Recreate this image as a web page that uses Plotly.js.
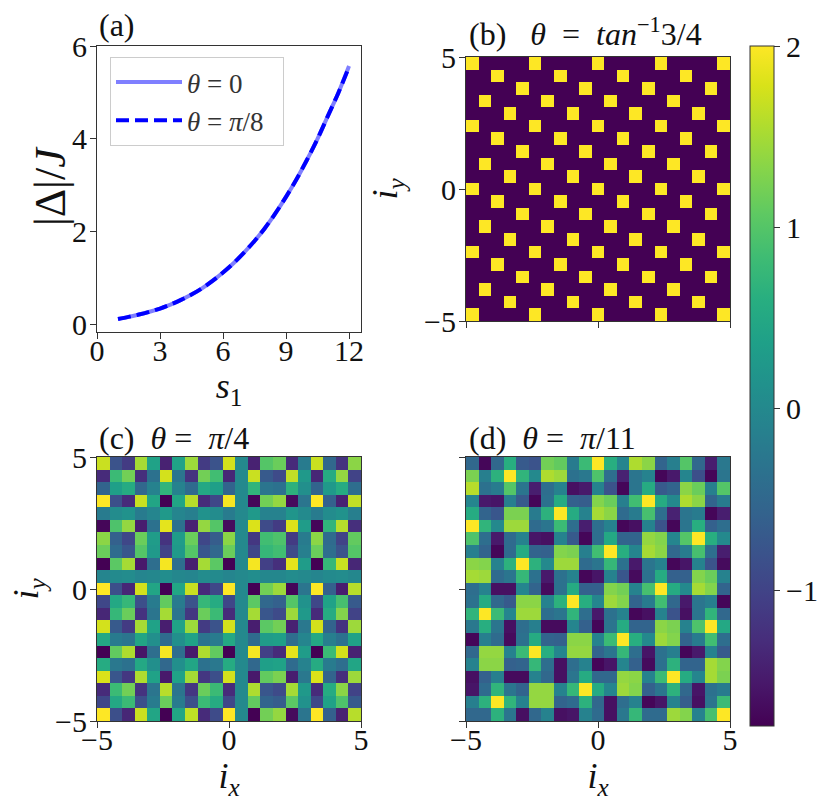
<!DOCTYPE html>
<html>
<head>
<meta charset="utf-8">
<script src="https://cdn.plot.ly/plotly-3.0.1.min.js"></script>
<style>html,body{margin:0;padding:0;background:#fff}</style>
</head>
<body>
<div id="chart" style="width:830px;height:808px"></div>
<script>
const s1 = [1,1.5,2,2.5,3,3.5,4,4.5,5,5.5,6,6.5,7,7.5,8,8.5,9,9.5,10,10.5,11,11.5,12];
const gapTheta0 = [0.12,0.165,0.215,0.275,0.345,0.43,0.53,0.645,0.78,0.94,1.12,1.32,1.55,1.8,2.08,2.4,2.75,3.13,3.55,4.0,4.5,5.0,5.57];
const gapThetaPi8 = [0.12,0.165,0.215,0.275,0.345,0.43,0.53,0.645,0.78,0.94,1.12,1.32,1.55,1.8,2.08,2.4,2.75,3.13,3.55,4.0,4.5,5.0,5.55];

const L=-1.75, H=2;
const panelB = [
[H,L,L,L,L,H,L,L,L,L,H,L,L,L,L,H,L,L,L,L,H],
[L,L,H,L,L,L,L,H,L,L,L,L,H,L,L,L,L,H,L,L,L],
[L,L,L,L,H,L,L,L,L,H,L,L,L,L,H,L,L,L,L,H,L],
[L,H,L,L,L,L,H,L,L,L,L,H,L,L,L,L,H,L,L,L,L],
[L,L,L,H,L,L,L,L,H,L,L,L,L,H,L,L,L,L,H,L,L],
[H,L,L,L,L,H,L,L,L,L,H,L,L,L,L,H,L,L,L,L,H],
[L,L,H,L,L,L,L,H,L,L,L,L,H,L,L,L,L,H,L,L,L],
[L,L,L,L,H,L,L,L,L,H,L,L,L,L,H,L,L,L,L,H,L],
[L,H,L,L,L,L,H,L,L,L,L,H,L,L,L,L,H,L,L,L,L],
[L,L,L,H,L,L,L,L,H,L,L,L,L,H,L,L,L,L,H,L,L],
[H,L,L,L,L,H,L,L,L,L,H,L,L,L,L,H,L,L,L,L,H],
[L,L,H,L,L,L,L,H,L,L,L,L,H,L,L,L,L,H,L,L,L],
[L,L,L,L,H,L,L,L,L,H,L,L,L,L,H,L,L,L,L,H,L],
[L,H,L,L,L,L,H,L,L,L,L,H,L,L,L,L,H,L,L,L,L],
[L,L,L,H,L,L,L,L,H,L,L,L,L,H,L,L,L,L,H,L,L],
[H,L,L,L,L,H,L,L,L,L,H,L,L,L,L,H,L,L,L,L,H],
[L,L,H,L,L,L,L,H,L,L,L,L,H,L,L,L,L,H,L,L,L],
[L,L,L,L,H,L,L,L,L,H,L,L,L,L,H,L,L,L,L,H,L],
[L,H,L,L,L,L,H,L,L,L,L,H,L,L,L,L,H,L,L,L,L],
[L,L,L,H,L,L,L,L,H,L,L,L,L,H,L,L,L,L,H,L,L],
[H,L,L,L,L,H,L,L,L,L,H,L,L,L,L,H,L,L,L,L,H]
];
const panelC = [
[1.7,-.8,-1.1,1.5,.4,-1.4,.4,1.45,-1.1,-.8,1.75,0,-1.4,1,1.15,-1.3,-.2,1.7,-.5,-1.2,1.35],
[-1.3,.8,1.2,-1.25,-.35,1.75,-.3,-1.2,1.2,.85,-1.35,0,1.7,-.7,-.9,1.65,.25,-1.35,.55,1.4,-1],
[-.55,.35,.55,-.5,-.1,.7,-.1,-.45,.5,.35,-.55,0,.7,-.3,-.35,.65,.1,-.55,.25,.55,-.4],
[2,-.85,-1.3,1.7,.45,-1.75,.45,1.6,-1.3,-.95,1.95,0,-1.7,1.2,1.4,-1.65,-.3,2,-.6,-1.4,1.65],
[-.2,.05,.15,-.2,-.05,.25,-.05,-.15,.15,.05,-.2,0,.25,-.1,-.1,.2,.02,-.2,.05,.15,-.15],
[-1.7,.95,1.4,-1.45,-.35,1.85,-.35,-1.4,1.4,1,-1.65,0,1.8,-.9,-1.1,1.8,.3,-1.7,.7,1.6,-1.25],
[1.35,-.6,-.95,1.15,.3,-1.2,.3,1.15,-.95,-.65,1.35,0,-1.15,.85,.95,-1.1,-.2,1.35,-.45,-1,1.1],
[1.15,-.45,-.75,1,.25,-1,.25,1,-.75,-.5,1.15,0,-.95,.75,.85,-.9,-.15,1.15,-.4,-.8,1],
[-1.75,1.05,1.5,-1.5,-.4,1.95,-.4,-1.45,1.5,1.05,-1.75,0,1.95,-1.05,-1.25,1.85,.3,-1.75,.75,1.7,-1.35],
[-.05,.03,.05,-.05,-.02,.07,-.02,-.05,.05,.03,-.05,0,.07,-.03,-.03,.06,.01,-.05,.02,.05,-.03],
[2,-.85,-1.35,1.75,.45,-1.75,.45,1.7,-1.3,-.95,2,0,-1.75,1.2,1.45,-1.7,-.3,2,-.6,-1.45,1.6],
[-.95,.5,.75,-.85,-.2,1.1,-.2,-.8,.75,.55,-.95,0,1.05,-.5,-.6,1,.15,-.95,.4,.9,-.7],
[-1.35,.75,1.15,-1.2,-.3,1.5,-.3,-1.15,1.15,.8,-1.3,0,1.5,-.75,-.9,1.45,.25,-1.3,.55,1.3,-1],
[1.75,-.7,-1.1,1.5,.4,-1.45,.4,1.45,-1.1,-.8,1.75,0,-1.45,1.05,1.2,-1.4,-.25,1.75,-.55,-1.2,1.45],
[.5,-.2,-.3,.45,.1,-.45,.1,.4,-.3,-.2,.5,0,-.45,.3,.35,-.4,-.05,.5,-.15,-.35,.4],
[-1.75,1.1,1.55,-1.55,-.4,1.95,-.4,-1.5,1.55,1.1,-1.75,0,1.95,-1.05,-1.3,1.85,.3,-1.75,.8,1.75,-1.4],
[.55,-.25,-.35,.5,.1,-.5,.1,.45,-.35,-.25,.55,0,-.5,.35,.4,-.45,-.1,.55,-.2,-.4,.45],
[1.8,-.75,-1.15,1.55,.4,-1.5,.4,1.5,-1.15,-.85,1.75,0,-1.5,1.1,1.25,-1.45,-.25,1.8,-.55,-1.25,1.45],
[-1.3,.8,1.2,-1.2,-.3,1.6,-.3,-1.15,1.15,.8,-1.3,0,1.55,-.75,-.9,1.5,.25,-1.3,.55,1.35,-1],
[-.95,.5,.8,-.85,-.2,1.15,-.2,-.85,.8,.55,-.95,0,1.1,-.55,-.65,1.05,.15,-.95,.4,.95,-.7],
[2,-.85,-1.35,1.7,.45,-1.75,.45,1.65,-1.3,-.9,2,0,-1.75,1.2,1.4,-1.65,-.3,2,-.6,-1.4,1.6]
];
const panelD = [
[-.5,-1.7,-.5,.6,-.7,-.8,1.2,1.1,-.2,.8,2,.6,-.05,1.55,1.35,-.55,-.15,1,-.5,-1.45,-.25],
[1.25,-.15,.65,2,.7,0,1.55,1.45,-.35,-.25,.95,-.4,-1.4,-.3,-.1,-1.7,-1.5,-.05,-.85,-1.7,-.3],
[1.6,-.35,-.2,1,-.3,-1.45,-.4,-.1,-1.6,-1.5,-.1,-.8,-1.7,-.3,.55,-.7,-.55,1.35,1.15,-.15,1],
[-.05,-1.5,-1.55,-.15,-.7,-1.7,-.35,.55,-.6,-.65,1.3,1.15,-.15,.85,2,.55,0,1.55,1.35,-.55,-.2],
[.55,-.55,-.75,1.25,1.25,-.2,.65,2,.55,-.1,1.5,1.35,-.45,-.2,.9,-.4,-1.4,-.3,-.2,-1.7,-1.45],
[2,.7,0,1.45,1.45,-.45,-.3,.8,-.4,-1.45,-.4,-.1,-1.7,-1.6,-.1,-.8,-1.7,-.3,.6,-.6,-.4],
[.95,-.4,-1.5,-.45,-.1,-1.55,-1.6,-.1,-.7,-1.7,-.4,.5,-.55,-.55,1.4,1.3,-.05,1,2,.6,0],
[-.15,-.55,-1.7,-.45,.55,-.55,-.6,1.3,1.25,-.15,.85,2,.6,-.05,1.5,1.35,-.5,-.2,.9,-.4,-1.45],
[1.35,1.3,-.1,.65,2,.65,0,1.45,1.45,-.45,-.3,.75,-.35,-1.5,-.3,-.1,-1.7,-1.55,-.1,-.8,-1.65],
[1.5,1.45,-.45,-.3,.75,-.35,-1.5,-.35,-.1,-1.7,-1.55,-.1,-.75,-1.65,-.35,.55,-.6,-.6,1.3,1.15,-.1],
[-.4,-.1,-1.6,-1.6,-.05,-.55,-1.65,-.35,.55,-.6,-.6,1.3,1.2,-.1,.9,2,.55,0,1.5,1.3,-.55],
[-.35,.55,-.5,-.7,1.35,1.35,-.1,.65,2,.6,-.05,1.45,1.3,-.55,-.2,.85,-.5,-1.5,-.3,-.15,-1.7],
[.7,2,.8,-.05,1.45,1.45,-.4,-.3,.7,-.4,-1.5,-.35,-.1,-1.7,-1.6,-.1,-.8,-1.6,-.3,.7,-.5],
[-.25,.6,-.3,-1.6,-.4,-.15,-1.65,-1.65,-.05,-.6,-1.7,-.3,.55,-.55,-.55,1.35,1.25,-.1,.95,2,.5],
[-1.7,-.15,-.45,-1.65,-.35,.55,-.55,-.6,1.35,1.35,-.1,.8,2,.6,0,1.45,1.3,-.55,-.2,.85,-.4],
[-.5,1.4,1.4,-.1,.8,2,.6,-.05,1.4,1.4,-.55,-.3,.75,-.4,-1.55,-.35,-.15,-1.7,-1.5,-.1,-.7],
[-.1,1.35,1.35,-.6,-.55,.75,-.4,-1.6,-.4,-.1,-1.7,-1.55,-.05,-.6,-1.65,-.35,.65,-.55,-.55,1.5,1.3],
[-1.6,-.6,-.15,-1.65,-1.65,-.1,-.5,-1.6,-.3,.55,-.5,-.5,1.4,1.35,-.1,.8,2,.55,-.05,1.5,1.25],
[-1.55,-.45,.7,-.3,-.55,1.4,1.4,-.1,.75,2,.55,-.05,1.45,1.3,-.6,-.3,.65,-.5,-1.55,-.35,-.2],
[-.15,.65,2,.7,-.1,1.4,1.4,-.55,-.45,.65,-.5,-1.6,-.4,-.1,-1.7,-1.55,-.1,-.65,-1.6,-.3,.8],
[-.5,-.5,.65,-.3,-1.6,-.5,-.1,-1.6,-1.55,-.1,-.45,-1.6,-.25,.75,-.45,-.45,1.45,1.3,-.1,.9,2]
];

const ticksA_x = [0,3,6,9,12];
const ticksA_y = [0,2,4,6];
const ticksMap = [-5,0,5];
const labelsMap = ['\u22125','0','5'];
const ticksBar = [-1,0,1,2];
const labelsBar = ['\u22121','0','1','2'];

const W=830, Ht=808;
const serif = '"Liberation Serif","DejaVu Serif",serif';
const ink = '#333333';
const dx = (px0,px1)=>[px0/W, px1/W];
const dy = (top,bot)=>[1-bot/Ht, 1-top/Ht];

function xAxisBase(extra){ return axisBase(Object.assign({ticklabelstandoff:-14},extra)); }
function yAxisBase(extra){ return axisBase(Object.assign({ticklabelstandoff:-3},extra)); }
function axisBase(extra){
  return Object.assign({
    showgrid:false, zeroline:false, showline:true, mirror:true,
    linecolor:ink, linewidth:1, ticks:'outside', ticklen:6, tickwidth:1, tickcolor:ink,
    tickfont:{family:serif,size:30,color:'#111'}, automargin:false
  },extra);
}
function axisTitle(text,size,standoff){
  return {text:text,font:{family:serif,size:size,color:'#111'},standoff:standoff};
}
function heat(z,xa,ya){
  return {type:'heatmap',z:z,x0:-5+5/21,dx:10/21,y0:5-5/21,dy:-10/21,xaxis:xa,yaxis:ya,
    coloraxis:'coloraxis',zsmooth:false,showlegend:false,hoverinfo:'skip'};
}

const traces = [
  {type:'scatter',mode:'lines',x:s1,y:gapTheta0,name:'<i>θ</i> = 0',xaxis:'x',yaxis:'y',
   line:{color:'rgba(0,0,255,0.5)',width:4,shape:'spline'}},
  {type:'scatter',mode:'lines',x:s1,y:gapThetaPi8,name:'<i>θ</i> = <i>π</i>/8\u2002',xaxis:'x',yaxis:'y',
   line:{color:'#0000ff',width:4,dash:'13px,6px',shape:'spline'}},
  heat(panelB,'x2','y2'),
  heat(panelC,'x3','y3'),
  heat(panelD,'x4','y4')
];

function label(text,px,py){
  return {text:text,xref:'paper',yref:'paper',x:px/W,y:1-py/Ht,xanchor:'left',yanchor:'bottom',
    showarrow:false,align:'left',font:{family:serif,size:32,color:'#111'}};
}

const layout = {
  width:W,height:Ht,margin:{l:0,r:0,t:0,b:0},paper_bgcolor:'#fff',plot_bgcolor:'#fff',
  font:{family:serif,color:'#111'},
  xaxis:xAxisBase({domain:dx(97,361),range:[0,12.57],tickvals:ticksA_x,title:axisTitle('<i>s</i><sub>1</sub>',36,2),anchor:'y'}),
  yaxis:yAxisBase({domain:dy(46,331.5),range:[-0.15,6],tickvals:ticksA_y,anchor:'x'}),
  xaxis2:axisBase({domain:dx(466,730),range:[-5,5],tickvals:ticksMap,showticklabels:false,anchor:'y2'}),
  yaxis2:yAxisBase({domain:dy(57,321),range:[-5,5],tickvals:ticksMap,ticktext:labelsMap,title:axisTitle('<i>i<sub>y</sub></i>',36,15),anchor:'x2'}),
  xaxis3:xAxisBase({domain:dx(97,361),range:[-5,5],tickvals:ticksMap,ticktext:labelsMap,title:axisTitle('<i>i<sub>x</sub></i>',36,2),anchor:'y3'}),
  yaxis3:yAxisBase({domain:dy(457,721),range:[-5,5],tickvals:ticksMap,ticktext:labelsMap,title:axisTitle('<i>i<sub>y</sub></i>',36,5),anchor:'x3'}),
  xaxis4:xAxisBase({domain:dx(466,730),range:[-5,5],tickvals:ticksMap,ticktext:labelsMap,title:axisTitle('<i>i<sub>x</sub></i>',36,2),anchor:'y4'}),
  yaxis4:axisBase({domain:dy(457,721),range:[-5,5],tickvals:ticksMap,showticklabels:false,anchor:'x4'}),
  coloraxis:{colorscale:'Viridis',cmin:-1.75,cmax:2,colorbar:{
    x:750/W,xanchor:'left',xref:'paper',y:1-726/Ht,yanchor:'bottom',yref:'paper',
    len:680/Ht,lenmode:'fraction',thickness:24,thicknessmode:'pixels',xpad:0,ypad:0,
    outlinecolor:ink,outlinewidth:1,tickvals:ticksBar,ticktext:labelsBar,ticks:'outside',ticklen:6,
    tickcolor:ink,tickfont:{family:serif,size:30,color:'#111'}
  }},
  legend:{x:110/W,y:1-57/Ht,xanchor:'left',yanchor:'top',bgcolor:'rgba(255,255,255,0.8)',
    bordercolor:'#cccccc',borderwidth:1,font:{family:serif,size:27,color:'#333'},itemwidth:66,tracegroupgap:0},
  showlegend:true,
  annotations:[
    label('(a)',97,45),
    label('(b)\u2002\u2005<i>θ</i>\u2002=\u2002<i>tan</i><sup>−1</sup>3/4',467,54),
    label('(c)\u2002<i>θ</i>\u2005=\u2002<i>π</i>/4',97,458),
    label('(d)\u2002<i>θ</i>\u2005=\u2002<i>π</i>/11',467,458),
    {text:'|Δ|/<i>J</i>',xref:'paper',yref:'paper',x:50/W,y:1-186/Ht,xanchor:'center',yanchor:'middle',
     textangle:-90,showarrow:false,font:{family:serif,size:44,color:'#111'}}
  ]
};
Plotly.newPlot('chart',traces,layout,{displayModeBar:false,staticPlot:true});
</script>
</body>
</html>
